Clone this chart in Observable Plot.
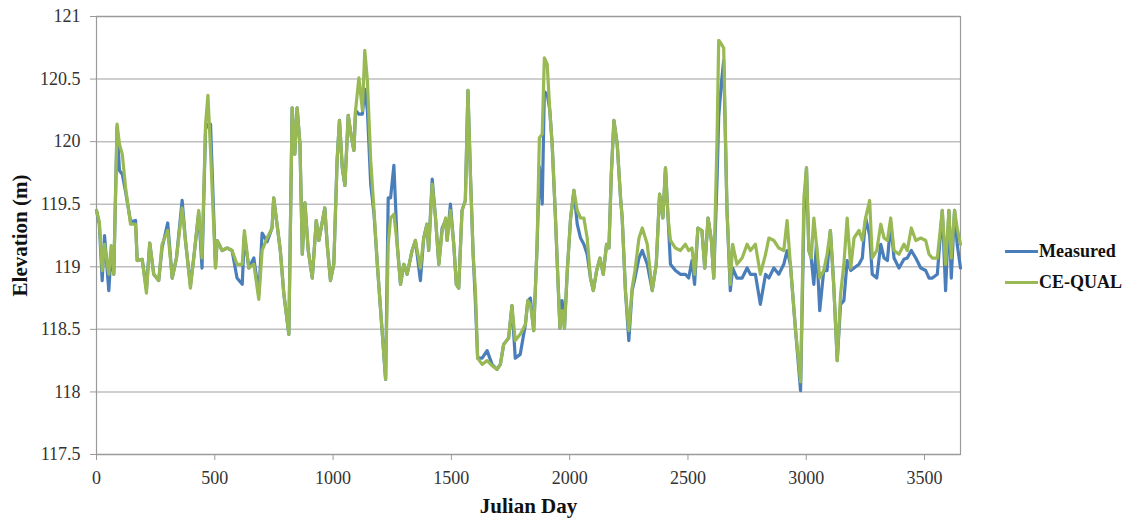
<!DOCTYPE html>
<html>
<head>
<meta charset="utf-8">
<script src="https://cdn.jsdelivr.net/npm/d3@7"></script>
<script src="https://cdn.jsdelivr.net/npm/@observablehq/plot@0.6"></script>
<style>
  body { margin: 0; background: #fff; }
  #wrap { position: relative; width: 1136px; height: 520px; }
  #wrap, #wrap svg, #wrap svg text {
    font-family: "Liberation Serif", "Times New Roman", "DejaVu Serif", serif !important;
  }
  #legend {
    position: absolute; left: 1005px; top: 236px;
    font-weight: bold; font-size: 18px; color: #111;
  }
  #legend .item { display: flex; align-items: center; height: 31px; }
  #legend .sw { width: 33px; height: 3px; margin-right: 1px; }
  #wrap svg [aria-label="x-axis label"] text,
  #wrap svg [aria-label="y-axis label"] text {
    font-weight: bold; font-size: 21px; fill: #111;
  }
</style>
</head>
<body>
<div id="wrap"><div id="legend"></div></div>
<script>
// Reservoir water-surface elevation, measured vs. CE-QUAL-W2 simulation
const days = [
  0, 12, 24, 34, 52, 62, 73, 87, 97, 109, 123, 144, 165, 172, 193, 211, 225, 242, 263, 277,
  301, 320, 338, 362, 376, 397, 411, 432, 446, 461, 471, 482, 503, 510, 531, 552, 573, 594, 616, 625,
  644, 665, 686, 700, 721, 742, 749, 763, 777, 792, 813, 827, 838, 848, 860, 870, 881, 895, 912, 929,
  940, 965, 975, 989, 1003, 1017, 1027, 1039, 1050, 1064, 1078, 1088, 1095, 1109, 1124, 1134, 1145, 1159, 1173, 1187,
  1201, 1222, 1233, 1243, 1257, 1271, 1285, 1299, 1313, 1334, 1348, 1369, 1383, 1397, 1404, 1419, 1433, 1447, 1461, 1476,
  1482, 1496, 1510, 1521, 1531, 1545, 1559, 1570, 1581, 1592, 1602, 1611, 1630, 1651, 1672, 1693, 1707, 1721, 1742, 1756,
  1770, 1791, 1813, 1823, 1834, 1848, 1862, 1872, 1884, 1893, 1905, 1916, 1926, 1940, 1950, 1959, 1968, 1978, 1990, 2004,
  2018, 2032, 2046, 2060, 2074, 2088, 2100, 2114, 2128, 2142, 2156, 2166, 2176, 2187, 2201, 2215, 2222, 2236, 2250, 2264,
  2276, 2293, 2307, 2328, 2349, 2366, 2380, 2394, 2405, 2416, 2426, 2447, 2468, 2489, 2503, 2517, 2528, 2542, 2559, 2571,
  2585, 2599, 2609, 2623, 2630, 2641, 2651, 2665, 2679, 2689, 2707, 2729, 2750, 2764, 2785, 2806, 2828, 2842, 2863, 2884,
  2905, 2919, 2933, 2954, 2976, 2990, 3001, 3011, 3021, 3032, 3043, 3057, 3074, 3088, 3102, 3116, 3131, 3145, 3159, 3173,
  3188, 3202, 3223, 3237, 3251, 3268, 3279, 3298, 3315, 3329, 3343, 3357, 3371, 3392, 3413, 3427, 3444, 3463, 3484, 3505,
  3519, 3533, 3554, 3575, 3589, 3603, 3613, 3627, 3638, 3652
];
const measured = [
  119.45, 119.34, 118.89, 119.25, 118.81, 119.12, 118.94, 120.12, 119.77, 119.74, 119.60, 119.36, 119.37, 119.05, 119.06, 118.82, 119.19, 118.94, 118.89, 119.15,
  119.35, 118.91, 119.07, 119.53, 119.21, 118.85, 119.07, 119.43, 118.99, 120.10, 120.14, 120.14, 119.00, 119.21, 119.13, 119.15, 119.13, 118.91, 118.86, 119.25,
  118.99, 119.07, 118.78, 119.27, 119.20, 119.31, 119.55, 119.34, 119.13, 118.78, 118.46, 120.27, 119.90, 120.27, 119.98, 119.10, 119.51, 119.13, 118.91, 119.37,
  119.21, 119.47, 119.18, 118.89, 119.02, 119.85, 120.17, 119.79, 119.65, 120.21, 120.03, 119.93, 120.25, 120.22, 120.22, 120.42, 120.25, 119.66, 119.42, 119.02,
  118.65, 118.10, 119.55, 119.55, 119.81, 119.18, 118.86, 119.02, 118.94, 119.13, 119.21, 118.89, 119.23, 119.34, 119.13, 119.70, 119.39, 119.02, 119.31, 119.37,
  119.21, 119.50, 119.18, 118.86, 118.83, 119.45, 119.53, 120.41, 119.71, 119.10, 118.70, 118.27, 118.27, 118.33, 118.22, 118.18, 118.22, 118.38, 118.43, 118.69,
  118.27, 118.30, 118.54, 118.73, 118.75, 118.49, 119.15, 119.80, 119.50, 120.40, 120.38, 120.25, 119.98, 119.39, 118.91, 118.51, 118.73, 118.51, 118.97, 119.39,
  119.61, 119.34, 119.23, 119.18, 119.10, 118.91, 118.81, 118.97, 119.07, 118.94, 119.18, 119.15, 119.74, 120.17, 119.98, 119.55, 119.39, 118.80, 118.41, 118.81,
  118.91, 119.07, 119.13, 119.02, 118.81, 119.02, 119.58, 119.39, 119.79, 119.39, 119.02, 118.97, 118.94, 118.94, 118.91, 119.05, 118.86, 119.31, 119.29, 118.99,
  119.39, 119.21, 118.91, 119.70, 120.20, 120.46, 120.65, 119.45, 118.81, 118.99, 118.91, 118.91, 118.99, 118.94, 118.94, 118.70, 118.94, 118.91, 118.99, 118.94,
  119.02, 119.13, 119.02, 118.51, 118.01, 119.40, 119.79, 119.13, 119.07, 118.86, 119.18, 118.65, 118.97, 118.97, 119.29, 118.86, 118.25, 118.70, 118.73, 119.05,
  118.97, 118.99, 119.02, 119.07, 119.39, 119.25, 118.94, 118.91, 119.18, 119.07, 119.05, 119.35, 119.07, 118.99, 119.06, 119.07, 119.13, 119.07, 118.99, 118.97,
  118.91, 118.91, 118.94, 119.45, 118.81, 119.45, 118.91, 119.45, 119.18, 118.99
];
const cequal = [
  119.45, 119.36, 118.97, 119.18, 118.94, 119.17, 118.94, 120.14, 119.98, 119.90, 119.63, 119.34, 119.34, 119.05, 119.06, 118.79, 119.19, 118.94, 118.89, 119.18,
  119.29, 118.91, 119.07, 119.47, 119.21, 118.83, 119.07, 119.45, 119.07, 120.14, 120.37, 119.93, 118.99, 119.21, 119.13, 119.15, 119.13, 119.02, 119.02, 119.29,
  118.99, 119.02, 118.74, 119.13, 119.23, 119.31, 119.55, 119.34, 119.13, 118.78, 118.46, 120.27, 119.90, 120.27, 119.98, 119.10, 119.51, 119.13, 118.91, 119.37,
  119.21, 119.47, 119.18, 118.89, 119.02, 119.85, 120.17, 119.79, 119.65, 120.21, 120.03, 119.93, 120.25, 120.51, 120.25, 120.73, 120.49, 119.85, 119.45, 119.02,
  118.65, 118.10, 119.18, 119.39, 119.42, 119.18, 118.86, 119.02, 118.94, 119.13, 119.21, 118.99, 119.23, 119.34, 119.13, 119.66, 119.39, 119.02, 119.29, 119.39,
  119.21, 119.45, 119.18, 118.86, 118.83, 119.45, 119.53, 120.41, 119.71, 119.10, 118.80, 118.27, 118.22, 118.25, 118.21, 118.18, 118.22, 118.38, 118.43, 118.69,
  118.41, 118.46, 118.54, 118.73, 118.70, 118.49, 119.15, 120.03, 120.06, 120.67, 120.62, 120.25, 119.98, 119.39, 118.91, 118.51, 118.65, 118.51, 118.97, 119.39,
  119.61, 119.45, 119.39, 119.39, 119.23, 118.91, 118.81, 118.97, 119.07, 118.94, 119.18, 119.15, 119.74, 120.17, 119.98, 119.55, 119.39, 118.80, 118.49, 118.83,
  118.97, 119.23, 119.31, 119.18, 118.81, 119.02, 119.58, 119.39, 119.79, 119.39, 119.21, 119.15, 119.13, 119.18, 119.13, 119.15, 118.94, 119.31, 119.29, 118.99,
  119.39, 119.21, 118.91, 120.03, 120.81, 120.78, 120.75, 119.45, 118.86, 119.18, 119.02, 119.07, 119.18, 119.13, 119.18, 118.94, 119.10, 119.23, 119.21, 119.15,
  119.13, 119.37, 119.02, 118.51, 118.08, 119.55, 119.79, 119.13, 119.07, 119.39, 119.18, 118.91, 118.97, 119.10, 119.29, 118.86, 118.25, 118.78, 119.02, 119.39,
  118.99, 119.23, 119.29, 119.21, 119.39, 119.53, 119.07, 119.13, 119.34, 119.23, 119.21, 119.39, 119.13, 119.10, 119.18, 119.13, 119.31, 119.21, 119.23, 119.21,
  119.10, 119.07, 119.07, 119.45, 119.02, 119.45, 119.07, 119.45, 119.31, 119.18
];
const seriesNames = ["Measured", "CE-QUAL"];
const seriesColors = ["#4a7ebb", "#98b954"];
const xTicks = [0, 500, 1000, 1500, 2000, 2500, 3000, 3500];
const yTicks = [117.5, 118, 118.5, 119, 119.5, 120, 120.5, 121];

const rows = [];
days.forEach((d, i) => {
  rows.push({day: d, elev: measured[i], series: seriesNames[0]});
  rows.push({day: d, elev: cequal[i], series: seriesNames[1]});
});

const chart = Plot.plot({
  width: 1136,
  height: 520,
  marginLeft: 96,
  marginRight: 176,
  marginTop: 16,
  marginBottom: 66,
  style: {fontFamily: "Liberation Serif, Times New Roman, serif", fontSize: "18px", color: "#333", background: "#fff"},
  x: {domain: [0, 3652]},
  y: {domain: [117.5, 121]},
  color: {domain: seriesNames, range: seriesColors},
  marks: [
    Plot.gridY(yTicks, {stroke: "#bfbfbf", strokeOpacity: 1, strokeWidth: 1.5}),
    Plot.frame({stroke: "#9a9a9a", strokeWidth: 1.2}),
    Plot.axisX(xTicks, {tickSize: 6, tickPadding: 11, stroke: "#9a9a9a", tickFormat: d => String(d),
      label: "Julian Day", labelAnchor: "center", labelArrow: "none", labelOffset: 58}),
    Plot.axisY(yTicks, {tickSize: 6, tickPadding: 10, stroke: "#9a9a9a", tickFormat: d => String(d),
      label: "Elevation (m)", labelAnchor: "center", labelArrow: "none", labelOffset: 84}),
    Plot.line(rows, {x: "day", y: "elev", z: "series", stroke: "series", strokeWidth: 3.2, strokeLinejoin: "round"})
  ]
});
document.getElementById("wrap").prepend(chart);

// Legend on the right side of the chart
const legend = document.getElementById("legend");
seriesNames.forEach((name, i) => {
  const item = document.createElement("div");
  item.className = "item";
  const sw = document.createElement("span");
  sw.className = "sw";
  sw.style.background = seriesColors[i];
  item.appendChild(sw);
  item.appendChild(document.createTextNode(name));
  legend.appendChild(item);
});
</script>
</body>
</html>
